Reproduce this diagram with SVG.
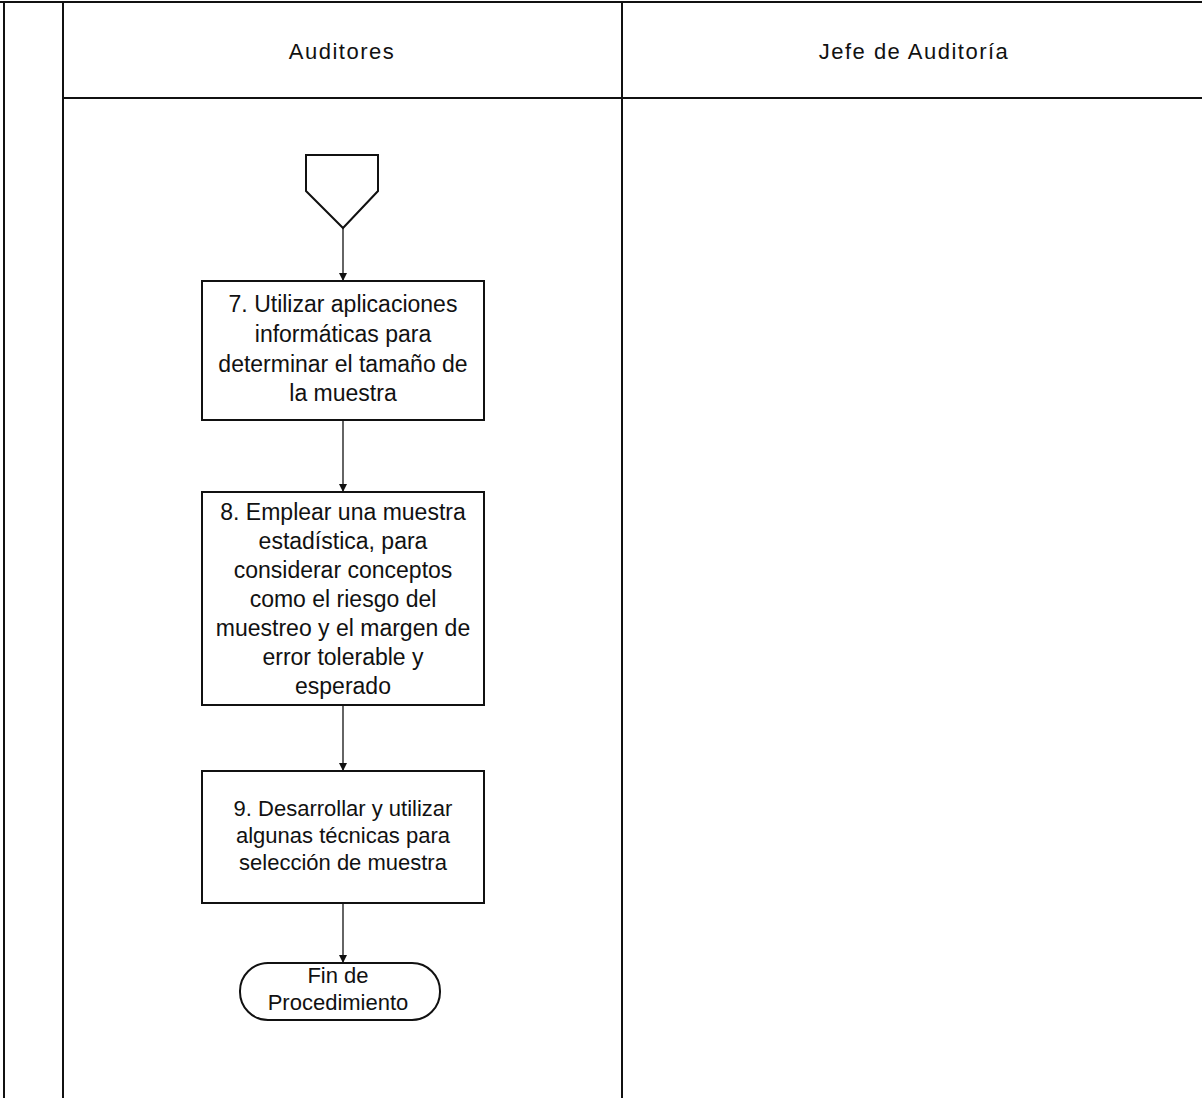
<svg xmlns="http://www.w3.org/2000/svg" width="1202" height="1098" viewBox="0 0 1202 1098">
  <defs>
    <marker id="arrow" viewBox="0 0 10 10" refX="10" refY="5" markerWidth="8" markerHeight="8" markerUnits="userSpaceOnUse" orient="auto">
      <path d="M0,0 L10,5 L0,10 Z" fill="#111"/>
    </marker>
  </defs>
  <style>
    .lane { stroke: #111; stroke-width: 2; fill: none; }
    .shape { stroke: #111; stroke-width: 2; fill: #fff; }
    .conn { stroke: #111; stroke-width: 1.3; fill: none; marker-end: url(#arrow); }
    .head { font-family: "Liberation Sans", Arial, sans-serif; font-size: 22px; fill: #111; text-anchor: middle; letter-spacing: 1.5px; }
    .txt { font-family: "Liberation Sans", Arial, sans-serif; font-size: 23px; fill: #111; text-anchor: middle; }
    .sm { font-size: 22px; }
  </style>
  <rect width="1202" height="1098" fill="#fff"/>

  <!-- swimlane frame -->
  <g id="lanes">
    <line class="lane" x1="0" y1="2" x2="1202" y2="2"/>
    <line class="lane" x1="63" y1="98" x2="1202" y2="98"/>
    <line class="lane" x1="4" y1="2" x2="4" y2="1098"/>
    <line class="lane" x1="63" y1="2" x2="63" y2="1098"/>
    <line class="lane" x1="622" y1="2" x2="622" y2="1098"/>
    <text class="head" x="342" y="59">Auditores</text>
    <text class="head" x="914" y="59">Jefe de Auditoría</text>
  </g>

  <!-- connectors -->
  <g id="connectors">
    <line class="conn" x1="343" y1="228" x2="343" y2="281"/>
    <line class="conn" x1="343" y1="420" x2="343" y2="492"/>
    <line class="conn" x1="343" y1="705" x2="343" y2="771"/>
    <line class="conn" x1="343" y1="903" x2="343" y2="963"/>
  </g>

  <!-- off-page connector -->
  <g id="offpage">
    <path class="shape" d="M306,155 L378,155 L378,191 L343,228 L306,191 Z"/>
  </g>

  <g id="step7">
    <rect class="shape" x="202" y="281" width="282" height="139"/>
    <text class="txt" x="343" y="312">7. Utilizar aplicaciones</text>
    <text class="txt" x="343" y="342">informáticas para</text>
    <text class="txt" x="343" y="372">determinar el tamaño de</text>
    <text class="txt" x="343" y="401">la muestra</text>
  </g>

  <g id="step8">
    <rect class="shape" x="202" y="492" width="282" height="213"/>
    <text class="txt" x="343" y="520">8. Emplear una muestra</text>
    <text class="txt" x="343" y="549">estadística, para</text>
    <text class="txt" x="343" y="578">considerar conceptos</text>
    <text class="txt" x="343" y="607">como el riesgo del</text>
    <text class="txt" x="343" y="636">muestreo y el margen de</text>
    <text class="txt" x="343" y="665">error tolerable y</text>
    <text class="txt" x="343" y="694">esperado</text>
  </g>

  <g id="step9">
    <rect class="shape" x="202" y="771" width="282" height="132"/>
    <text class="txt sm" x="343" y="816">9. Desarrollar y utilizar</text>
    <text class="txt sm" x="343" y="843">algunas técnicas para</text>
    <text class="txt sm" x="343" y="870">selección de muestra</text>
  </g>

  <g id="end">
    <rect class="shape" x="240" y="963" width="200" height="57" rx="28" ry="28"/>
    <text class="txt sm" x="338" y="983">Fin de</text>
    <text class="txt sm" x="338" y="1010">Procedimiento</text>
  </g>
</svg>
